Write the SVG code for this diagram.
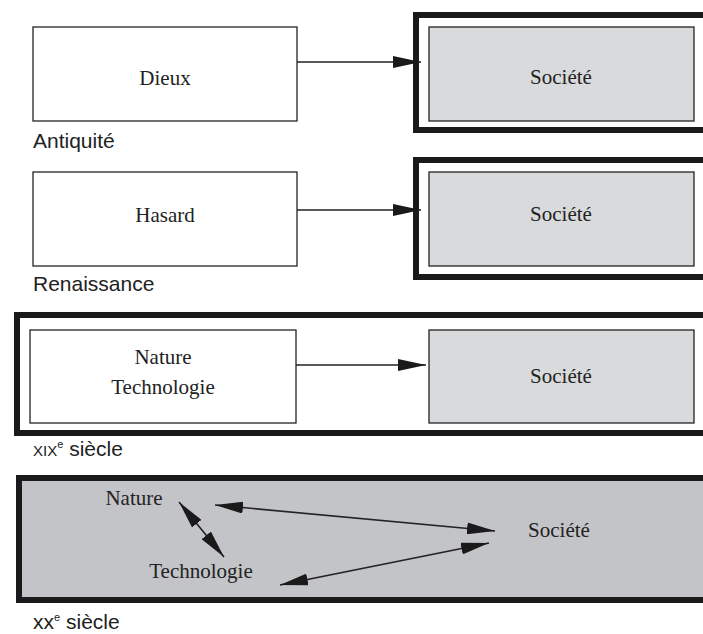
<svg xmlns="http://www.w3.org/2000/svg" width="703" height="634" viewBox="0 0 703 634">
<style>
.frame{fill:none;stroke:#1a1a1a;stroke-width:6}
.box{fill:#ffffff;stroke:#222;stroke-width:1.3}
.soc{fill:#d9dadc;stroke:#222;stroke-width:1.3}
.lbl{font-family:"Liberation Serif","Times New Roman",serif;font-size:21px;fill:#222;text-anchor:middle}
.per{font-family:"Liberation Sans",Arial,sans-serif;font-size:21px;fill:#222}
.conn line{stroke:#222;stroke-width:1.6}
</style>
<defs>
<marker id="ah" viewBox="0 0 28 12" refX="28" refY="6" markerWidth="28" markerHeight="12" markerUnits="userSpaceOnUse" orient="auto-start-reverse">
<path d="M0,0 L28,6 L0,12 Z" fill="#1a1a1a"/>
</marker>
</defs>
<rect x="0" y="0" width="703" height="634" fill="#ffffff"/>
<g id="era-antiquite">
<rect class="frame" x="416" y="15" width="300" height="115"/>
<g id="dieux"><rect class="box" x="33" y="27" width="264" height="94"/><text class="lbl" x="165" y="85">Dieux</text></g>
<g id="societe1"><rect class="soc" x="429" y="27" width="265" height="94"/><text class="lbl" x="561" y="84">Société</text></g>
<text class="per" x="33" y="148">Antiquité</text>
</g>
<g id="era-renaissance">
<rect class="frame" x="416" y="160" width="300" height="117"/>
<g id="hasard"><rect class="box" x="33" y="172" width="264" height="94"/><text class="lbl" x="165" y="222">Hasard</text></g>
<g id="societe2"><rect class="soc" x="429" y="172" width="265" height="94"/><text class="lbl" x="561" y="221">Société</text></g>
<text class="per" x="33" y="291">Renaissance</text>
</g>
<g id="era-xix">
<rect class="frame" x="17" y="315" width="700" height="118"/>
<g id="nature-techno"><rect class="box" x="30" y="330" width="266" height="93"/><text class="lbl" x="163" y="364">Nature</text><text class="lbl" x="163" y="394">Technologie</text></g>
<g id="societe3"><rect class="soc" x="429" y="330" width="265" height="93"/><text class="lbl" x="561" y="383">Société</text></g>
<text class="per" x="33" y="456"><tspan style="font-variant:small-caps">xix</tspan><tspan font-size="11" dy="-8">e</tspan><tspan dy="8"> siècle</tspan></text>
</g>
<g id="era-xx">
<rect x="19" y="478" width="700" height="122" fill="#c3c4c8" stroke="#1a1a1a" stroke-width="6"/>
<g id="nature"><text class="lbl" x="134" y="505">Nature</text></g>
<g id="technologie"><text class="lbl" x="201" y="578">Technologie</text></g>
<g id="societe4"><text class="lbl" x="559" y="537">Société</text></g>
<text class="per" x="33" y="629">xx<tspan font-size="11" dy="-8">e</tspan><tspan dy="8"> siècle</tspan></text>
</g>
<g id="connectors" class="conn">
<line x1="297" y1="62" x2="421" y2="62" marker-end="url(#ah)"/>
<line x1="297" y1="210" x2="421" y2="210" marker-end="url(#ah)"/>
<line x1="296" y1="365" x2="426" y2="365" marker-end="url(#ah)"/>
<line x1="215" y1="505" x2="495" y2="531" marker-start="url(#ah)" marker-end="url(#ah)"/>
<line x1="280" y1="585" x2="489" y2="543" marker-start="url(#ah)" marker-end="url(#ah)"/>
<line x1="179" y1="502" x2="224" y2="557" marker-start="url(#ah)" marker-end="url(#ah)"/>
</g>
</svg>
